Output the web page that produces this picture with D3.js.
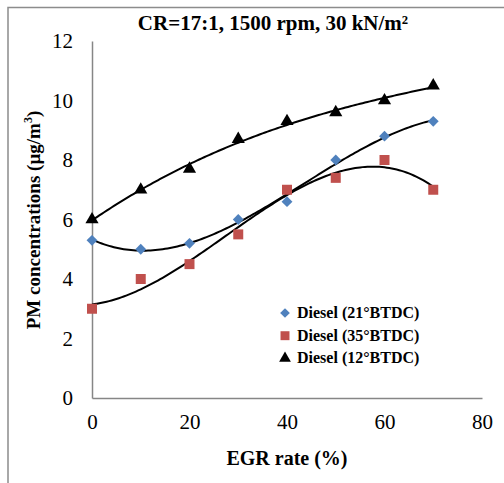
<!DOCTYPE html>
<html>
<head>
<meta charset="utf-8">
<script src="https://cdn.jsdelivr.net/npm/d3@7"></script>
<style>
  body { margin: 0; background: #fff; }
  text { font-family: "Liberation Serif", "Times New Roman", serif; }
</style>
</head>
<body>
<div id="chart"></div>
<script>
// EGR rate (%) for every series
const egrRate = [0, 10, 20, 30, 40, 50, 60, 70];

// PM concentrations
const diesel21 = [5.3, 5.0, 5.2, 6.0, 6.6, 8.0, 8.8, 9.3];
const diesel35 = [3.0, 4.0, 4.5, 5.5, 7.0, 7.4, 8.0, 7.0];
const diesel12 = [6.0, 7.0, 7.7, 8.7, 9.3, 9.6, 10.0, 10.5];

const seriesNames = ["Diesel (21°BTDC)", "Diesel (35°BTDC)", "Diesel (12°BTDC)"];
const xTicks = [0, 20, 40, 60, 80];
const yTicks = [0, 2, 4, 6, 8, 10, 12];

const width = 504;
const height = 483;
const margin = {top: 41, right: 22, bottom: 85, left: 92};

const svg = d3.select("#chart")
    .append("svg")
    .attr("width", width)
    .attr("height", height);

// outer frame (only top and left edges show)
svg.append("path")
    .attr("d", `M8,${height} L8,7.5 L${width},7.5`)
    .attr("fill", "none")
    .attr("stroke", "#8c8c8c")
    .attr("stroke-width", 1.5);

const x = d3.scaleLinear().domain([0, 80]).range([margin.left, width - margin.right]);
const y = d3.scaleLinear().domain([0, 12]).range([height - margin.bottom, margin.top]);

// axes
const xAxis = svg.append("g")
    .attr("transform", `translate(0, ${y(0)})`)
    .call(d3.axisBottom(x).tickValues(xTicks).tickSize(0).tickPadding(16));

const yAxis = svg.append("g")
    .attr("transform", `translate(${x(0)}, 0)`)
    .call(d3.axisLeft(y).tickValues(yTicks).tickSize(0).tickPadding(19));

[xAxis, yAxis].forEach(g => {
    g.select(".domain").attr("stroke", "#868686").attr("stroke-width", 1.5);
    g.selectAll("text")
        .attr("font-family", "Liberation Serif")
        .attr("font-size", 21)
        .attr("fill", "#000");
});

// least-squares polynomial (Excel-style trendline)
function polyFit(xs, ys, order) {
    const n = order + 1;
    const A = [];
    for (let i = 0; i < n; i++) {
        A.push([]);
        for (let j = 0; j < n; j++) A[i].push(d3.sum(xs, v => Math.pow(v, i + j)));
        A[i].push(d3.sum(xs, (v, k) => Math.pow(v, i) * ys[k]));
    }
    for (let c = 0; c < n; c++) {
        let p = c;
        for (let r = c + 1; r < n; r++) if (Math.abs(A[r][c]) > Math.abs(A[p][c])) p = r;
        [A[c], A[p]] = [A[p], A[c]];
        for (let r = 0; r < n; r++) {
            if (r === c) continue;
            const f = A[r][c] / A[c][c];
            for (let k = c; k <= n; k++) A[r][k] -= f * A[c][k];
        }
    }
    const coef = A.map((row, i) => row[n] / row[i]);
    return t => coef.reduce((s, cf, i) => s + cf * Math.pow(t, i), 0);
}

const series = [
    {name: seriesNames[0], values: diesel21, color: "#4f81bd", symbol: d3.symbolDiamond2, size: 75},
    {name: seriesNames[1], values: diesel35, color: "#c0504d", symbol: d3.symbolSquare, size: 100},
    {name: seriesNames[2], values: diesel12, color: "#000", symbol: d3.symbolTriangle, size: 75}
];

const line = d3.line()
    .x(d => x(d[0]))
    .y(d => y(d[1]));

// trendlines
series.forEach(s => {
    const f = polyFit(egrRate, s.values, 3);
    const pts = d3.range(0, 70.01, 0.5).map(t => [t, f(t)]);
    svg.append("path")
        .datum(pts)
        .attr("d", line)
        .attr("fill", "none")
        .attr("stroke", "#000")
        .attr("stroke-width", 2);
});

// markers
series.forEach(s => {
    svg.append("g")
        .selectAll("path")
        .data(s.values)
        .enter()
        .append("path")
        .attr("d", d3.symbol().type(s.symbol).size(s.size))
        .attr("transform", (d, i) => `translate(${x(egrRate[i])}, ${y(d)})`)
        .attr("fill", s.color);
});

// title
svg.append("text")
    .attr("x", 273)
    .attr("y", 30)
    .attr("text-anchor", "middle")
    .attr("font-size", 21)
    .attr("font-weight", "bold")
    .text("CR=17:1, 1500 rpm, 30 kN/m²");

// axis titles
svg.append("text")
    .attr("x", 287)
    .attr("y", 465)
    .attr("text-anchor", "middle")
    .attr("font-size", 20)
    .attr("font-weight", "bold")
    .text("EGR rate (%)");

const yTitle = svg.append("text")
    .attr("transform", "translate(40, 220) rotate(-90)")
    .attr("text-anchor", "middle")
    .attr("font-size", 19)
    .attr("font-weight", "bold");
yTitle.append("tspan").text("PM concentrations (µg/m");
yTitle.append("tspan").attr("font-size", 12).attr("dy", -8).text("3");
yTitle.append("tspan").attr("dy", 8).text(")");

// legend
const legend = svg.append("g");
series.forEach((s, i) => {
    const ly = 313 + i * 22.7;
    legend.append("path")
        .attr("d", d3.symbol().type(s.symbol).size(s.size * 0.8))
        .attr("transform", `translate(285, ${ly})`)
        .attr("fill", s.color);
    legend.append("text")
        .attr("x", 297)
        .attr("y", ly + 5)
        .attr("font-size", 16)
        .attr("font-weight", "bold")
        .text(s.name);
});
</script>
</body>
</html>
